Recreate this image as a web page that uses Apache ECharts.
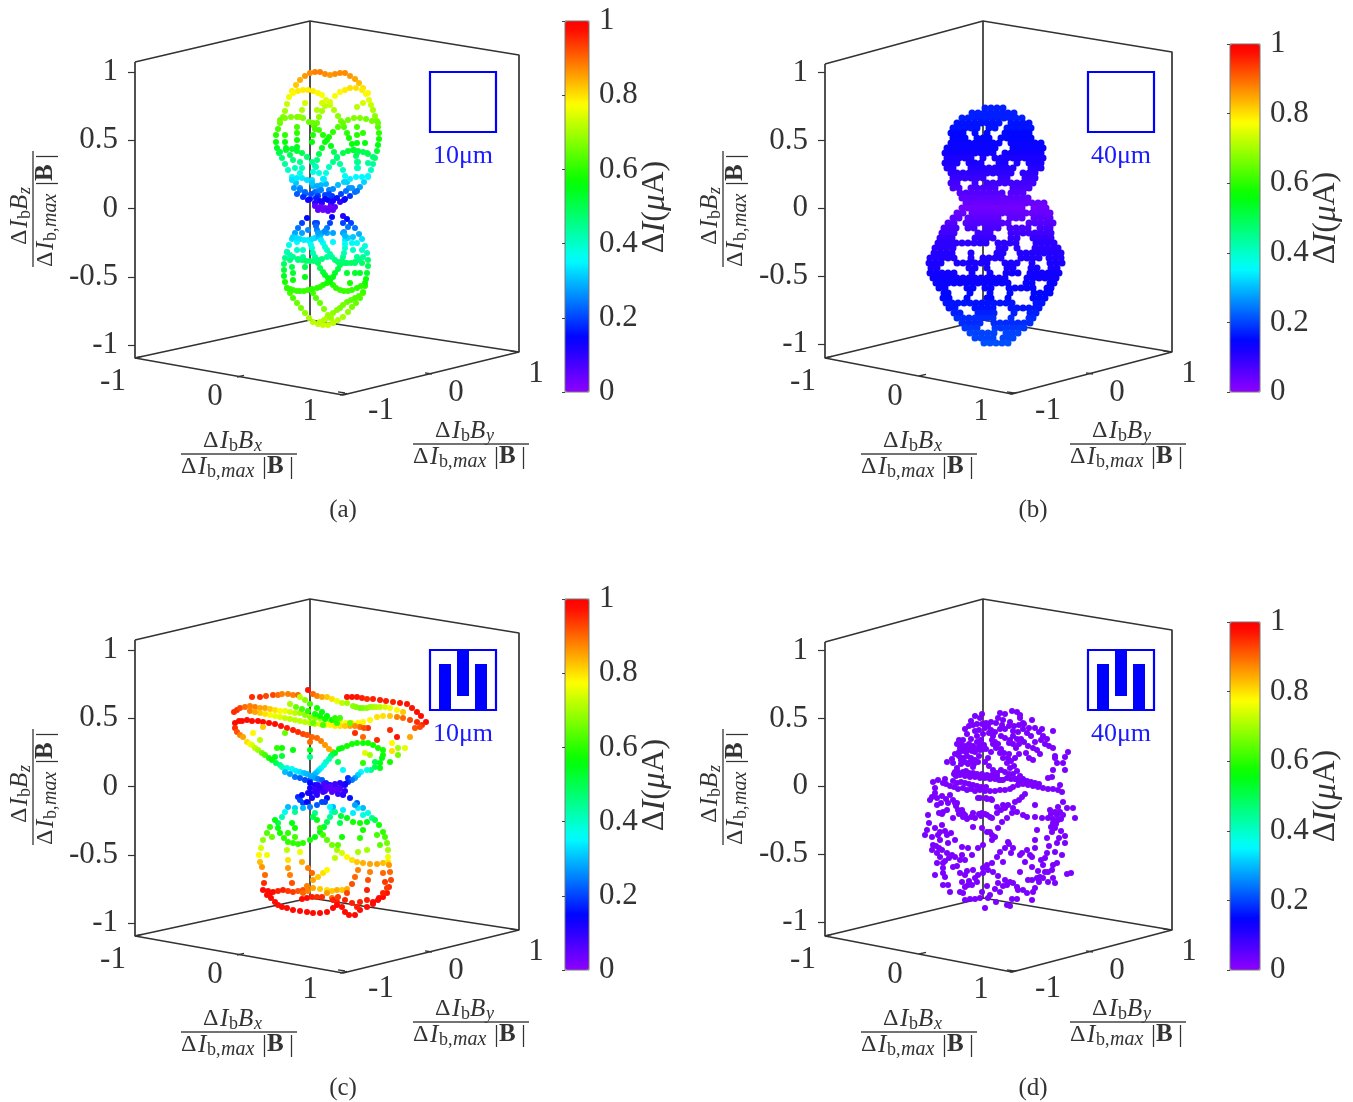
<!DOCTYPE html>
<html><head><meta charset="utf-8">
<script src="https://cdn.jsdelivr.net/npm/echarts@6/dist/echarts.min.js"></script>
<style>html,body{margin:0;background:#fff}#c{width:1353px;height:1102px}</style></head>
<body><div id="c"></div>
<script>
// Values. u,h = projected horizontal/vertical reading from the box's back edge at z=0.
const zTicks=[-1,-0.5,0,0.5,1];
const xyTickLabels=['-1','0','1'];
const barTicks=[0,0.2,0.4,0.6,0.8,1];
const panelNames=['(a)','(b)','(c)','(d)'];
const sizeLabels=['10μm','40μm','10μm','40μm'];
// flat u,h,v
const panelA=[-27,91,.67,-25,97,.7,-23,104,.73,-21,111,.76,-18,117,.79,-14,123,.82,-10,128,.84,-5,132,.86,0,135,.87,5,136,.88,10,136,.88,15,134,.87,20,133,.86,25,134,.87,30,135,.87,35,135,.87,40,132,.86,45,129,.85,49,125,.83,53,120,.8,56,114,.78,59,108,.75,61,103,.73,63,98,.71,65,92,.68,67,87,.66,68,81,.63,69,75,.6,69,69,.58,68,63,.55,67,57,.52,65,50,.47,63,44,.44,61,38,.4,58,32,.36,54,26,.32,50,21,.28,45,16,.23,40,12,.19,34,8,.14,
-30,85,.65,-32,79,.62,-34,73,.59,-34,66,.56,-33,60,.54,-31,55,.5,-28,50,.47,-25,44,.44,-22,38,.4,-18,31,.35,-14,25,.31,-10,20,.27,-5,14,.21,0,9,.16,5,5,.1,
-17,115,.78,-12,117,.79,-7,118,.79,-2,118,.79,3,117,.79,8,115,.78,12,113,.77,16,108,.75,20,103,.73,24,98,.71,28,92,.68,31,87,.66,34,81,.63,37,75,.6,39,70,.58,42,64,.56,44,58,.53,46,52,.48,47,46,.45,48,40,.41,
58,115,.78,52,118,.79,46,120,.8,40,120,.8,35,118,.79,30,116,.78,25,112,.77,20,106,.74,15,102,.72,12,97,.7,9,91,.68,7,85,.65,5,79,.62,3,73,.59,2,66,.56,
-30,88,.66,-25,90,.67,-19,91,.67,-13,91,.67,-7,90,.67,-1,86,.65,4,82,.63,9,78,.62,13,73,.59,17,68,.57,21,62,.55,24,56,.5,27,50,.47,30,44,.44,33,38,.4,35,32,.36,37,26,.31,39,20,.27,
68,85,.65,62,87,.66,56,89,.66,50,90,.67,44,90,.67,38,88,.66,33,85,.65,28,81,.63,23,76,.6,19,71,.58,15,66,.56,12,60,.54,9,54,.5,7,48,.46,5,42,.42,3,36,.38,2,28,.33,3,22,.29,5,16,.23,
-30,56,.5,-24,58,.53,-18,59,.53,-13,57,.52,-8,55,.5,-3,51,.47,2,46,.45,6,41,.41,9,35,.38,13,29,.34,16,24,.3,19,18,.25,22,12,.19,
63,51,.47,58,54,.49,53,56,.5,48,57,.52,43,58,.53,38,57,.52,33,55,.5,27,51,.47,23,46,.45,19,41,.41,16,35,.38,14,29,.34,11,23,.3,9,17,.24,8,12,.19,
-18,28,.33,-13,30,.34,-8,30,.34,-3,28,.33,2,25,.31,7,22,.29,11,18,.25,15,13,.2,18,8,.14,21,4,.09,
58,31,.35,52,31,.35,46,31,.35,40,29,.34,34,26,.32,28,23,.3,23,19,.26,19,14,.2,15,9,.15,12,5,.1,
-16,20,.27,-10,18,.25,-5,16,.23,1,14,.21,6,10,.17,10,7,.12,-13,14,.22,-7,11,.18,-2,8,.13,47,17,.24,42,20,.27,36,17,.24,31,14,.2,27,10,.16,23,7,.12,35,9,.14,30,6,.1,
5,2,.05,10,1,.04,15,0,.03,20,1,.04,25,1,.05,8,-2,.05,13,-2,.04,18,-3,.05,23,-2,.05,
-25,73,.6,-25,66,.56,-24,60,.54,-13,81,.62,-13,75,.6,-13,68,.57,-13,61,.54,-20,53,.49,-17,48,.46,-15,40,.41,-10,46,.45,-8,40,.41,-10,35,.38,-5,105,.74,-8,98,.71,-10,91,.68,
47,81,.62,47,73,.59,47,65,.56,47,55,.5,48,46,.45,47,40,.41,53,75,.6,55,65,.56,57,55,.5,58,45,.44,53,105,.74,47,101,.72,12,105,.74,7,98,.71,3,85,.65,
-3,-10,.15,-8,-15,.2,-12,-20,.24,-15,-25,.28,-18,-31,.33,-21,-37,.37,-23,-44,.42,-25,-50,.45,-26,-56,.49,-26,-62,.52,-26,-68,.54,-25,-74,.58,-23,-80,.6,-20,-85,.62,-17,-90,.63,-13,-95,.65,-9,-100,.66,-5,-105,.68,-1,-110,.7,3,-114,.72,8,-116,.72,13,-117,.73,18,-117,.73,23,-115,.72,28,-112,.71,33,-109,.7,38,-104,.68,42,-99,.66,46,-95,.65,50,-90,.63,53,-84,.62,55,-78,.6,56,-71,.56,57,-65,.53,58,-58,.5,58,-52,.47,57,-45,.42,55,-38,.38,52,-31,.33,49,-26,.29,45,-20,.24,41,-15,.2,37,-11,.15,33,-8,.11,
-17,-29,.32,-10,-31,.33,-2,-32,.34,5,-30,.32,12,-25,.28,17,-20,.24,20,-15,.2,22,-9,.14,
-23,-44,.42,-17,-49,.44,-8,-52,.47,0,-53,.48,8,-52,.47,17,-49,.44,
53,-49,.44,45,-54,.48,37,-55,.48,28,-54,.48,22,-49,.44,17,-42,.41,13,-35,.36,10,-29,.31,7,-22,.25,5,-15,.2,
55,-75,.58,47,-80,.6,38,-83,.61,30,-82,.61,23,-77,.59,18,-70,.55,13,-64,.52,8,-55,.48,5,-49,.44,2,-40,.39,0,-34,.35,
-23,-80,.6,-17,-82,.61,-10,-83,.61,-2,-82,.61,7,-80,.6,13,-77,.59,20,-72,.56,25,-65,.53,30,-57,.49,33,-49,.44,35,-40,.39,35,-32,.34,34,-24,.27,
3,-85,.62,10,-95,.65,18,-107,.69,23,-114,.72,53,-85,.62,45,-90,.63,37,-94,.65,30,-100,.66,23,-105,.68,17,-110,.7,10,-114,.72,
-20,-52,.46,-18,-59,.5,-17,-65,.53,-17,-72,.56,-7,-42,.4,-7,-49,.44,-5,-59,.5,-5,-69,.55,-13,-34,.35,-13,-42,.4,-12,-52,.46,43,-42,.4,47,-49,.44,42,-35,.36,45,-55,.48,35,-55,.48,37,-65,.53,40,-75,.58,45,-65,.53,50,-65,.53,52,-55,.48,33,-25,.28,38,-30,.32,43,-29,.31,47,-35,.36,52,-42,.4,23,-25,.28,23,-34,.35,17,-25,.28,7,-15,.2,-2,-22,.26,-8,-25,.28,33,-15,.2,38,-19,.24,
-13,-30,.33,-6,-32,.34,2,-31,.33,9,-28,.3,15,-23,.26,-20,-47,.43,-12,-51,.46,-4,-53,.48,4,-53,.48,12,-51,.46,49,-52,.46,41,-55,.48,32,-55,.48,25,-52,.46,20,-46,.43,15,-39,.39,11,-32,.34,8,-25,.28,6,-18,.23,51,-78,.6,42,-82,.61,34,-83,.61,26,-80,.6,20,-74,.57,15,-67,.54,10,-60,.5,6,-52,.46,3,-45,.42,1,-37,.37,-20,-81,.6,-13,-83,.61,-6,-83,.61,2,-81,.6,10,-79,.6,17,-75,.58,23,-69,.55,28,-61,.51,32,-53,.47,34,-45,.42,35,-36,.37,35,-28,.3,6,-90,.63,14,-101,.67,21,-110,.7,49,-88,.63,41,-92,.64,33,-97,.66,27,-102,.67,20,-108,.69,14,-112,.71];
// rows of panel b: h, v, then u readings
const panelB=[
[100,.17,2,8,14,20],[95,.17,-12,-6,0,6,12,18,24,30],[90,.17,-21,-15,-9,-3,3,9,15,21,27,33,39],[85,.16,-27,-21,-15,-9,-3,3,9,15,27,33,39,45],[80,.16,-30,-24,-18,-12,-6,6,12,24,30,36,42,48],[75,.15,-33,-27,-21,-9,3,21,27,33,39,45],[70,.15,-30,-24,-18,-6,0,6,18,24,30,36,42,48],[65,.14,-33,-27,-21,-15,-9,-3,3,9,15,27,33,39,45,51,57],[60,.14,-36,-30,-24,-18,-12,-6,0,6,12,30,36,42,48,54,60],[55,.13,-39,-33,-27,-21,-15,-9,-3,3,9,21,27,33,39,45,51,57],[50,.12,-36,-30,-24,-18,-12,0,12,18,24,30,36,42,48,54,60],[45,.12,-39,-33,-27,-15,-9,-3,15,21,33,45,51,57],[40,.11,-36,-30,-12,-6,0,6,12,18,24,30,48,54,58],[35,.1,-33,-27,-21,-15,-9,-3,3,9,15,21,27,39,45,51],[30,.09,-30,-24,-18,-12,-6,0,18,24,42,48,52],[25,.08,-33,-27,-9,3,9,15,21,27,33,39,45,49],[20,.07,-30,-24,-12,-6,0,6,12,30,36,42,46],[15,.06,-24,-18,-12,-6,0,6,12,18,27,33,39],[10,.05,-21,-15,-9,-3,3,9,15,21,27,33,39,45],[5,.04,-18,-12,-6,0,6,12,18,24,30,36,42,48,54,60],[0,.03,-21,-15,-9,-3,3,9,15,21,27,33,39,51,57,63],[-5,.04,-27,-21,-12,-6,0,6,12,18,24,30,36,42,48,54,60,66],[-10,.05,-30,-24,-15,-9,-3,3,9,15,27,33,39,51,57,63,67],[-15,.06,-36,-30,-18,-12,-6,0,6,12,18,24,45,51,57,63,69],[-20,.07,-39,-33,-27,-15,-9,3,9,15,27,33,39,45,57,63,67],[-25,.08,-42,-36,-30,-6,0,6,27,33,39,45,51,57,63,67],[-30,.09,-43,-37,-31,-8,-2,4,10,28,34,50,56,62,68],[-35,.1,-46,-40,-34,-28,-22,-16,-10,-4,2,14,20,26,32,52,58,64,70],[-40,.1,-48,-42,-36,-30,16,22,34,52,58,64,70,75],[-45,.11,-50,-44,-38,-32,-13,13,19,36,42,48,54,60,66,72,77],[-50,.11,-53,-47,-41,-35,-29,-12,0,6,12,18,38,44,50,56,66,72,78],[-55,.12,-55,-49,-43,-27,-21,-15,-9,-3,3,21,27,33,48,66,72,78],[-60,.12,-52,-46,-14,-8,4,24,30,48,54,68,74],[-65,.13,-54,-48,-42,-36,-30,-12,6,22,28,34,46,52,58,64,70,75],[-70,.13,-50,-44,-38,-32,-26,-20,-14,-8,-2,4,10,16,22,44,50,56,62,68,73],[-75,.14,-48,-42,-36,-30,-24,-18,-12,-6,0,6,12,18,24,42,48,66,70],[-80,.14,-44,-38,-16,-10,2,8,26,32,38,44,50,64,68],[-85,.15,-40,-36,-14,6,26,50,56,62,66],[-90,.15,-40,-34,-16,4,8,25,50,56,62],[-95,.16,-38,-32,-26,-20,-14,-8,-2,4,10,16,22,28,52,58],[-100,.16,-34,-28,-8,-2,4,10,28,34,40,46,52,56],[-105,.17,-30,-24,-6,0,6,10,30,46,52],[-110,.18,-26,-20,-14,-8,-2,4,10,28,46,50],[-115,.18,-22,-16,-10,-4,10,16,22,28,34,40,46],[-120,.19,-18,-12,-6,12,18,24,30,36,41],[-125,.2,-14,-8,-2,4,10,22,28,34],[-130,.2,-8,-2,4,10,20,26,30],[-135,.21,0,6,12,18,24]];
const panelC=[-58,89,.95,-50,89,.95,-44,90,.93,-37,91,.93,-32,91,.9,-28,92,.88,-22,92,.88,-17,91,.88,-12,91,.9,-2,96,.97,3,92,.9,7,90,.88,12,89,.85,17,89,.82,22,87,.8,27,85,.76,37,89,.97,42,89,.97,47,89,.97,52,88,.96,57,87,.95,63,87,.96,70,86,.96,76,85,.96,83,84,.96,90,83,.97,97,82,.97,102,78,.97,107,74,.98,111,70,.98,116,64,.98,
-76,74,.95,-73,76,.95,-70,78,.93,-65,79,.9,-60,80,.88,-55,79,.88,-50,78,.85,-45,78,.85,-40,77,.82,-35,76,.8,-30,75,.78,-25,75,.76,-20,74,.74,-15,73,.72,-10,73,.7,-5,71,.68,0,69,.68,5,68,.68,10,68,.68,15,67,.68,20,66,.7,25,65,.72,30,64,.75,36,63,.77,42,63,.78,48,63,.78,53,64,.78,60,66,.78,67,69,.8,73,70,.8,80,70,.82,87,69,.88,93,68,.9,100,66,.93,107,64,.95,112,61,.95,
-60,75,.88,-50,73,.82,-40,71,.78,-30,69,.75,-20,67,.72,-10,65,.72,0,63,.72,10,62,.75,20,61,.78,30,60,.8,40,60,.85,50,59,.9,58,58,.95,-55,74,.85,-45,72,.8,-35,70,.76,-25,68,.73,-15,66,.72,-5,64,.72,5,62,.73,15,61,.76,25,60,.79,35,60,.82,45,60,.87,54,58,.92,
-20,82,.7,-14,79,.65,-8,77,.62,-2,75,.6,5,72,.58,10,70,.56,15,67,.58,-10,89,.72,-5,86,.68,0,82,.62,7,78,.58,12,74,.56,17,70,.55,22,66,.56,32,83,.72,37,83,.7,43,80,.68,46,79,.67,50,78,.66,53,78,.67,57,78,.68,60,79,.69,63,79,.7,66,79,.71,70,79,.72,75,79,.74,80,78,.76,87,76,.78,93,74,.82,25,68,.6,30,68,.62,3,63,.65,13,61,.62,27,63,.6,40,63,.65,
-75,63,.98,-71,65,.98,-68,65,.98,-63,66,.98,-58,65,.98,-52,65,.98,-47,64,.98,-41,63,.98,-35,62,.98,-29,60,.97,-23,58,.96,-17,56,.96,-12,54,.95,-7,52,.93,-3,51,.92,2,49,.9,7,48,.9,11,45,.88,15,41,.86,19,37,.85,23,34,.84,
-75,58,.95,-73,54,.92,-70,51,.88,-67,49,.85,-63,44,.8,-60,42,.78,-58,41,.75,-55,38,.72,-52,36,.7,-48,33,.65,-45,31,.62,-41,28,.58,-38,26,.55,-34,23,.5,-30,21,.45,
-57,53,.78,-50,46,.72,-47,59,.82,-33,38,.6,-28,38,.58,-17,36,.56,-25,53,.65,-35,29,.55,-28,30,.52,0,36,.55,0,29,.45,0,44,.9,
45,53,.95,53,49,.9,67,46,.95,80,56,.95,87,49,.97,100,49,.85,105,58,.92,110,59,.93,82,43,.78,82,35,.8,88,38,.7,95,38,.75,88,31,.66,80,24,.58,70,18,.55,65,24,.5,55,33,.75,60,31,.7,53,23,.6,
25,33,.55,29,37,.56,32,38,.56,37,40,.58,42,42,.58,47,43,.58,53,43,.58,58,43,.58,63,41,.58,68,38,.58,73,36,.58,73,31,.58,72,28,.55,70,23,.55,65,19,.5,61,16,.45,57,16,.38,
23,32,.52,21,30,.48,19,27,.42,16,24,.4,14,21,.38,11,18,.36,9,16,.34,7,14,.32,5,12,.3,2,9,.25,0,6,.2,28,24,.5,33,16,.35,38,8,.18,51,14,.35,48,11,.32,45,8,.28,42,6,.24,38,4,.18,35,2,.15,32,1,.12,
-28,19,.42,-23,18,.38,-18,17,.36,-14,15,.34,-10,14,.33,-6,13,.31,-3,12,.3,1,10,.29,5,8,.28,8,7,.25,12,6,.22,16,3,.18,20,1,.15,24,0,.11,27,-2,.08,-25,14,.3,-15,9,.24,-5,6,.2,5,1,.12,-20,12,.28,-10,8,.22,0,3,.15,
0,-2,.12,5,-3,.08,10,-2,.06,15,-1,.05,20,-3,.05,25,-4,.05,30,-3,.06,35,-5,.1,30,3,.1,25,2,.08,20,0,.05,14,2,.07,8,1,.1,35,1,.12,33,-8,.08,28,-8,.08,22,-6,.06,15,-5,.07,7,-6,.1,0,-7,.14,
-12,-11,.18,-10,-14,.2,-7,-17,.2,-3,-16,.15,2,-12,.12,7,-9,.1,13,-6,.08,18,-2,.06,-8,-9,.15,-2,-7,.12,5,-6,.1,10,-2,.1,
17,-12,.14,12,-16,.2,7,-19,.22,0,-21,.25,-7,-22,.3,-15,-22,.32,-22,-21,.3,-25,-26,.36,-28,-31,.42,-32,-37,.5,-32,-42,.55,-30,-47,.58,-26,-52,.6,-22,-56,.6,-17,-57,.6,-12,-58,.6,-7,-57,.6,0,-54,.58,5,-51,.56,10,-46,.55,14,-41,.52,17,-36,.5,20,-31,.45,22,-26,.38,23,-21,.3,
15,-16,.2,20,-21,.35,25,-26,.45,31,-30,.52,37,-32,.55,43,-36,.58,50,-37,.58,57,-36,.55,62,-32,.45,58,-27,.38,53,-22,.3,47,-17,.22,40,-12,.16,33,-9,.1,43,-27,.34,48,-22,.34,53,-29,.38,33,-24,.34,45,-19,.28,
5,-27,.45,7,-34,.55,10,-42,.6,13,-49,.62,17,-54,.64,22,-59,.66,27,-64,.7,32,-67,.74,37,-71,.78,42,-74,.8,47,-76,.82,53,-77,.84,60,-78,.85,67,-78,.85,73,-77,.83,78,-76,.8,
65,-34,.5,69,-39,.58,73,-46,.6,75,-51,.62,77,-57,.66,78,-64,.7,78,-71,.76,79,-79,.86,80,-86,.9,81,-94,.93,79,-101,.95,77,-107,.97,73,-111,.98,68,-114,.98,63,-118,.98,57,-121,.98,50,-124,.98,
-35,-34,.55,-40,-41,.6,-43,-47,.63,-47,-54,.68,-49,-62,.74,-51,-69,.78,-50,-76,.83,-48,-81,.86,-45,-89,.9,-46,-97,.95,-47,-104,.98,
-42,-105,.98,-37,-106,.98,-32,-105,.96,-27,-104,.96,-22,-105,.94,-17,-106,.94,-12,-105,.92,-7,-104,.92,-3,-100,.88,3,-94,.85,8,-91,.82,13,-87,.8,17,-84,.78,
-7,-107,.9,-2,-105,.88,3,-102,.85,10,-103,.82,17,-104,.8,22,-105,.82,27,-104,.84,32,-104,.82,37,-103,.84,17,-107,.86,22,-112,.9,27,-116,.96,
-43,-109,.98,-39,-112,.98,-35,-116,.98,-32,-119,.98,-28,-121,.98,-23,-122,.98,-17,-124,.98,-10,-125,.98,-3,-126,.98,3,-127,.98,10,-127,.98,17,-126,.98,23,-122,.98,27,-119,.98,32,-121,.98,35,-126,.98,39,-129,.98,45,-129,.98,47,-121,.96,42,-117,.96,35,-114,.96,28,-111,.94,-3,-112,.98,-8,-113,.98,2,-111,.96,7,-111,.95,12,-111,.95,23,-114,.96,50,-116,.96,57,-114,.96,63,-116,.98,69,-112,.98,73,-107,.96,77,-102,.94,-40,-107,.98,
-23,-64,.72,-22,-74,.8,-22,-82,.86,-20,-89,.88,-18,-97,.92,-10,-66,.76,-8,-76,.84,-2,-82,.88,2,-87,.9,25,-72,.72,28,-59,.64,30,-37,.5,32,-51,.58,48,-84,.88,45,-91,.9,42,-98,.92,37,-107,.93,60,-86,.88,58,-94,.92,57,-104,.96,73,-87,.9,75,-96,.94,67,-49,.62,70,-59,.64,50,-52,.6,48,-66,.7,57,-64,.7,53,-44,.58,-15,-26,.45,-18,-37,.55,-15,-42,.58,-15,-51,.62,-22,-47,.6,-38,-51,.65,-43,-69,.76,3,-31,.5];
const panelDLevel=.02;
const panelD=[29,75,34,74,37,71,17,73,22,72,15,68,20,66,-8,70,-1,72,-3,68,-10,61,49,66,40,63,37,68,27,64,19,61,59,57,70,55,-14,60,-18,57,-16,52,-8,55,-4,56,2,58,5,60,8,56,12,54,17,57,22,57,26,60,30,55,35,54,40,57,44,53,48,50,30,50,34,47,38,47,10,50,6,53,0,52,-6,50,-12,47,-20,46,-24,46,-22,42,-18,40,-14,42,-10,40,-6,44,-2,46,1,41,3,37,-3,36,-8,34,-13,37,-17,34,-21,35,-24,30,-20,28,-16,30,-12,28,-8,26,-4,30,-15,22,-10,19,-17,15,-22,22,-26,18,-29,12,10,42,13,38,17,33,20,28,24,23,27,18,30,12,33,7,36,4,8,34,5,28,2,24,6,20,10,16,14,10,18,6,27,46,26,32,32,28,33,38,36,32,43,33,46,28,50,26,50,38,54,36,57,32,45,40,52,44,58,46,62,42,66,40,70,38,72,30,85,34,82,29,72,28,74,23,80,23,82,16,70,16,69,9,65,8,77,1,-36,24,-31,27,-30,23,-28,14,-23,11,-18,10,-13,9,-8,9,-3,8,2,8,7,7,12,7,16,6,20,6,24,8,28,7,32,7,36,5,-40,3,-37,2,-33,0,-29,-1,-25,-3,-20,-2,-16,-4,-12,-3,-8,-5,-3,-4,2,-5,7,-5,12,-5,17,-4,22,-4,27,-3,30,-1,35,1,40,2,45,1,50,0,55,-1,60,-2,65,-3,70,-3,75,-4,79,-6,-50,4,-45,6,-38,7,-48,-2,-48,-7,-51,-11,-53,-14,-33,-9,-35,-17,-36,-24,-42,-17,-46,-19,-40,-26,-44,-27,-28,-17,-25,-24,-20,-27,-20,-31,-16,-33,-12,-31,-8,-32,-4,-28,-2,-30,2,-28,7,-31,-5,-12,3,-12,8,-13,14,-21,20,-19,25,-19,32,-16,39,-11,34,-26,29,-27,24,-32,19,-36,15,-42,14,-27,40,-29,44,-31,52,-31,52,-19,59,-32,67,-24,65,-32,74,-29,75,-34,80,-29,84,-22,90,-22,92,-32,80,-16,75,-21,70,-37,72,-42,69,-46,64,-52,74,-57,72,-66,82,-57,79,-69,-55,-29,-54,-37,-56,-44,-58,-49,-51,-51,-48,-42,-41,-39,-43,-46,-45,-49,-36,-49,-43,-54,-50,-59,-51,-64,-46,-67,-43,-71,-40,-77,-46,-77,-36,-67,-31,-69,-28,-71,-21,-61,-15,-62,-21,-69,-18,-74,-11,-69,-10,-41,-1,-42,4,-46,9,-49,9,-54,-5,-62,0,-59,-28,-54,-35,-57,-30,-81,-26,-80,-23,-74,-40,-87,-38,-91,-48,-89,-40,-99,-35,-99,-33,-106,-23,-87,-18,-89,-21,-96,-15,-99,-11,-99,-18,-101,-23,-106,-20,-107,-10,-84,-5,-89,-6,-96,0,-82,4,-79,5,-84,0,-87,10,-86,9,-77,15,-97,22,-94,27,-96,30,-97,24,-99,34,-101,35,-104,40,-104,44,-107,12,-103,17,-106,4,-100,-1,-106,7,-109,5,-112,-18,-114,-13,-113,-8,-113,-3,-112,2,-122,13,-116,24,-119,27,-120,29,-113,34,-113,49,-114,37,-86,42,-76,39,-67,44,-64,47,-69,49,-71,49,-81,45,-94,49,-94,54,-92,55,-85,57,-91,62,-86,65,-86,65,-96,70,-92,72,-97,70,-79,74,-77,69,-84,60,-79,62,-72,64,-67,84,-88,88,-87,52,-102,50,-106,52,-54,52,-62,54,-44,25,-56,30,-62,22,-62,17,-66,14,-71,37,-69,7,-46,12,-51,-10,-27,-1,-27,4,-29,9,-32,-3,-12,4,-13,9,-14,-26,-17,-21,-24,-18,-29,-30,-32,
-26,42,-23,38,-19,37,-15,36,-11,35,-7,38,-3,41,0,37,-24,34,-28,32,-22,26,-18,24,-13,24,-9,22,-5,24,-27,10,-25,14,-20,14,-14,13,-10,13,-6,12,-1,12,4,11,9,11,14,13,18,16,22,14,26,12,9,46,12,44,15,42,18,37,21,33,25,28,28,25,31,20,34,15,37,10,40,7,44,5,48,4,52,3,56,2,31,60,36,61,41,62,46,58,52,58,56,54,60,50,64,47,-1,62,3,63,8,64,13,63,-6,62,-12,65,18,50,22,48,26,43,30,42,36,42,41,44,-30,5,-26,3,-22,4,-18,3,-14,2,-10,1,-6,0,-2,-1,3,-1,68,-28,70,-33,72,-26,77,-26,78,-33,73,-38,68,-41,-46,-12,-41,-10,-37,-13,-41,-28,-30,-14,-27,-20,-24,-28,22,-22,18,-24,30,-22,36,-14,42,-8,-32,-47,-38,-45,-47,-60,-44,-62,-41,-64,-38,-75,-34,-72,-14,-95,-8,-92,-16,-85,-40,-82,26,-58,28,-67,20,-76,58,-74,66,-60,76,-52,78,-45,82,-50,60,-92,56,-96,15,-90,20,-100];
// box outlines (u,h)
const boxAC={tl:[-175,146],bt:[0,187],tr:[209,153],br:[209,-144],f:[33,-187],bl:[-175,-150],bb:[0,-112]};
const boxBD={tl:[-158,144],bt:[0,187],tr:[189,156],br:[189,-144],f:[29,-186],bl:[-158,-150],bb:[0,-112]};

const SERIF='"Liberation Serif"';
const INK='#333';
const layouts=[
 {cx:310,cy:208,box:boxAC,zc:208.5,zs:136.5,barL:565,barT:21,barW:24,barB:392,xl:[[113,382],[215,397],[310,412]],yl:[[381,411],[456,393],[536,374]],xf:[239,454],yf:[471,444],zf:[33,209],bl:[655,207],icon:430,iconY:72,name:[343,510],icv:0,sz:[463,156],
  xt:[[135,358],[237,377],[340,395]],yt:[[345,393],[432,374],[517,352]]},
 {cx:983,cy:208,box:boxBD,zc:208.25,zs:135.75,barL:1230,barT:44,barW:30,barB:392,xl:[[803,382],[895,397],[981,412]],yl:[[1048,411],[1117,393],[1189,374]],xf:[919,454],yf:[1128,444],zf:[723,209],bl:[1326,218],icon:1088,iconY:72,name:[1033,510],icv:0,sz:[1121,156],
  xt:[[825,358],[919,376],[1010,394]],yt:[[1014,393],[1093,374],[1170,352]]}
];
function layoutFor(i){const L=layouts[i%2],d=i>=2?578:0;return {L,d};}

function mix(a,b,t){return Math.round(a+(b-a)*t);}
const stops=[[0,[143,0,255]],[.145,[0,0,255]],[.355,[0,255,255]],[.565,[0,255,0]],[.775,[255,255,0]],[.985,[255,0,0]],[1,[255,0,0]]];
const ramp=[];for(let k=0;k<=40;k++){const t=k/40;let j=0;while(j<stops.length-2&&t>stops[j+1][0])j++;const s=stops[j],e=stops[j+1],f=(t-s[0])/(e[0]-s[0]);ramp.push('rgb('+mix(s[1][0],e[1][0],f)+','+mix(s[1][1],e[1][1],f)+','+mix(s[1][2],e[1][2],f)+')');}

function triples(a){const o=[];for(let i=0;i<a.length;i+=3)o.push([a[i],a[i+1],a[i+2]]);return o;}
function rows(a){const o=[];a.forEach(r=>{for(let i=2;i<r.length;i++)o.push([r[i]+(Math.abs(r[0])%10===5?1:0),r[0],r[1]]);});return o;}
function pairs(a,v){const o=[];for(let i=0;i<a.length;i+=2)o.push([a[i],a[i+1],v]);return o;}
const pointSets=[triples(panelA),rows(panelB),triples(panelC),pairs(panelD,panelDLevel)];
const symbolSizes=[6,7,6,6];

function txt(x,y,text,font,extra){return Object.assign({type:'text',x:0,y:0,silent:true,z:20,style:{x,y,text,font,fill:INK,textAlign:'left',textVerticalAlign:'middle'}},{},extra||{});}
function frac(cx,cy,sub,rot){
 const f=(s,st)=>(st||'')+' '+s+'px '+SERIF, k=[];
 const L=(x,y,t,font,align)=>{const e=txt(x,y,t,font);if(align)e.style.textAlign=align;k.push(e);};
 L(-36,-13,'Δ',f(24));L(-19,-13,'I',f(25,'italic'));L(-10,-8,'b',f(18));L(-1,-13,'B',f(25,'italic'));L(15,-8,sub,f(18,'italic'));
 L(-58,13,'Δ',f(24));L(-41,13,'I',f(25,'italic'));L(-32,18,'b,',f(18));L(-18,18,'max',f(20,'italic'));L(23,13,'|',f(25));L(28,13,'B',f(25,'bold'));L(50,13,'|',f(25));
 k.push({type:'line',silent:true,z:20,shape:{x1:-58,y1:0,x2:58,y2:0},style:{stroke:'#444',lineWidth:1.4}});
 return {type:'group',x:cx,y:cy,rotation:rot,children:k};
}

const grids=[],xAxes=[],yAxes=[],series=[],visualMaps=[],graphics=[];
for(let i=0;i<4;i++){
 const {L,d}=layoutFor(i);
 const top=15+d,bottom=402+d,right=L.cx+L.box.tr[0]+6,left=L.cx+L.box.tl[0];
 const g=grids.length;
 grids.push({left,top,width:right-left,height:bottom-top,containLabel:false});
 const xi=xAxes.length;
 xAxes.push({type:'value',gridIndex:g,show:false,min:left-L.cx,max:right-L.cx});
 const zcd=L.zc+d;
 yAxes.push({type:'value',gridIndex:g,position:'left',min:(zcd-bottom)/L.zs,max:(zcd-top)/L.zs,splitLine:{show:false},
  axisLine:{show:false,onZero:false},axisTick:{show:true,length:7,customValues:zTicks,lineStyle:{color:INK,width:1.2}},
  axisLabel:{show:true,margin:17,fontFamily:SERIF,fontSize:31,color:INK,customValues:zTicks,formatter:v=>String(v),padding:[0,0,6,0]}});
 const yp=yAxes.length;
 yAxes.push({type:'value',gridIndex:g,show:false,min:L.cy+d-bottom,max:L.cy+d-top});
 const b=L.box;
 [[b.tl,b.bt,b.tr,b.br,b.f,b.bl,b.tl],[b.bl,b.bb,b.br],[b.bt,b.bb]].forEach(path=>{
  series.push({type:'line',xAxisIndex:xi,yAxisIndex:yp,data:path,showSymbol:false,silent:true,z:1,animation:false,lineStyle:{color:INK,width:1.7}});
 });
 L.xt.forEach(p=>{const u=p[0]-L.cx,h=L.cy-p[1];series.push({type:'line',xAxisIndex:xi,yAxisIndex:yp,data:[[u,h],[u+7,h+1.6]],showSymbol:false,silent:true,z:1,animation:false,lineStyle:{color:INK,width:1.3}});});
 L.yt.forEach(p=>{const u=p[0]-L.cx,h=L.cy-p[1];series.push({type:'line',xAxisIndex:xi,yAxisIndex:yp,data:[[u,h],[u-7,h+1.2]],showSymbol:false,silent:true,z:1,animation:false,lineStyle:{color:INK,width:1.3}});});
 const si=series.length;
 series.push({type:'scatter',name:'Panel '+panelNames[i],xAxisIndex:xi,yAxisIndex:yp,data:pointSets[i],encode:{x:0,y:1},symbolSize:symbolSizes[i],silent:true,z:3,animation:false,itemStyle:{opacity:1}});
 const barT=L.barT+d,barH=L.barB-L.barT;
 visualMaps.push({type:'continuous',min:0,max:1,dimension:2,seriesIndex:si,show:true,left:L.barL,top:barT,itemWidth:L.barW,itemHeight:barH,padding:0,text:null,showLabel:false,calculable:false,hoverLink:false,inRange:{color:ramp}});
 const gb=grids.length;
 grids.push({left:L.barL,top:barT,width:L.barW,height:barH,show:true,borderColor:'#777',borderWidth:1,backgroundColor:'transparent',z:6});
 xAxes.push({type:'value',gridIndex:gb,show:false,min:0,max:1});
 yAxes.push({type:'value',gridIndex:gb,position:'right',min:0,max:1,splitLine:{show:false},z:8,axisLine:{show:false},
  axisTick:{show:true,inside:true,length:3,customValues:barTicks,lineStyle:{color:'#444'}},
  axisLabel:{show:true,margin:10,fontFamily:SERIF,fontSize:31,color:INK,customValues:barTicks,formatter:v=>String(v),padding:[0,0,5,0]}});
 L.xl.forEach((p,j)=>{const e=txt(p[0],p[1]+d,xyTickLabels[j],'31px '+SERIF);e.style.textAlign='center';graphics.push(e);});
 L.yl.forEach((p,j)=>{const e=txt(p[0],p[1]+d,xyTickLabels[j],'31px '+SERIF);e.style.textAlign='center';graphics.push(e);});
 graphics.push(frac(L.xf[0],L.xf[1]+d,'x',0));
 graphics.push(frac(L.yf[0],L.yf[1]+d,'y',0));
 graphics.push(frac(L.zf[0],L.zf[1]+d,'z',Math.PI/2));
 graphics.push({type:'text',x:L.bl[0],y:L.bl[1]+d,rotation:Math.PI/2,silent:true,z:20,style:{text:'{n|Δ}{i|I}{n|(}{i|μ}{n|A)}',textAlign:'center',textVerticalAlign:'middle',fill:INK,rich:{n:{font:'32px '+SERIF,fill:INK},i:{font:'italic 33px '+SERIF,fill:INK}}}});
 const nm=txt(L.name[0],L.name[1]+d,panelNames[i],'25px '+SERIF);nm.style.textAlign='center';graphics.push(nm);
 const sz=txt(L.sz[0],L.sz[1]+d,sizeLabels[i],'26px '+SERIF);sz.style.textAlign='center';sz.style.fill='#1a1aff';graphics.push(sz);
 const ix=L.icon,iy=L.iconY+d;
 graphics.push({type:'rect',silent:true,z:20,shape:{x:ix,y:iy,width:66,height:60},style:{fill:'none',stroke:'#0000ff',lineWidth:2.2}});
 if(i>=2){[[9,14,12,46],[27,0,12,46],[45,14,12,46]].forEach(r=>graphics.push({type:'rect',silent:true,z:20,shape:{x:ix+r[0],y:iy+r[1],width:r[2],height:r[3]},style:{fill:'#0000ff'}}));}
}
const chart=echarts.init(document.getElementById('c'),null,{renderer:'canvas'});
chart.setOption({animation:false,backgroundColor:'#fff',tooltip:{show:false},grid:grids,xAxis:xAxes,yAxis:yAxes,visualMap:visualMaps,series,graphic:{elements:graphics}});
</script></body></html>
